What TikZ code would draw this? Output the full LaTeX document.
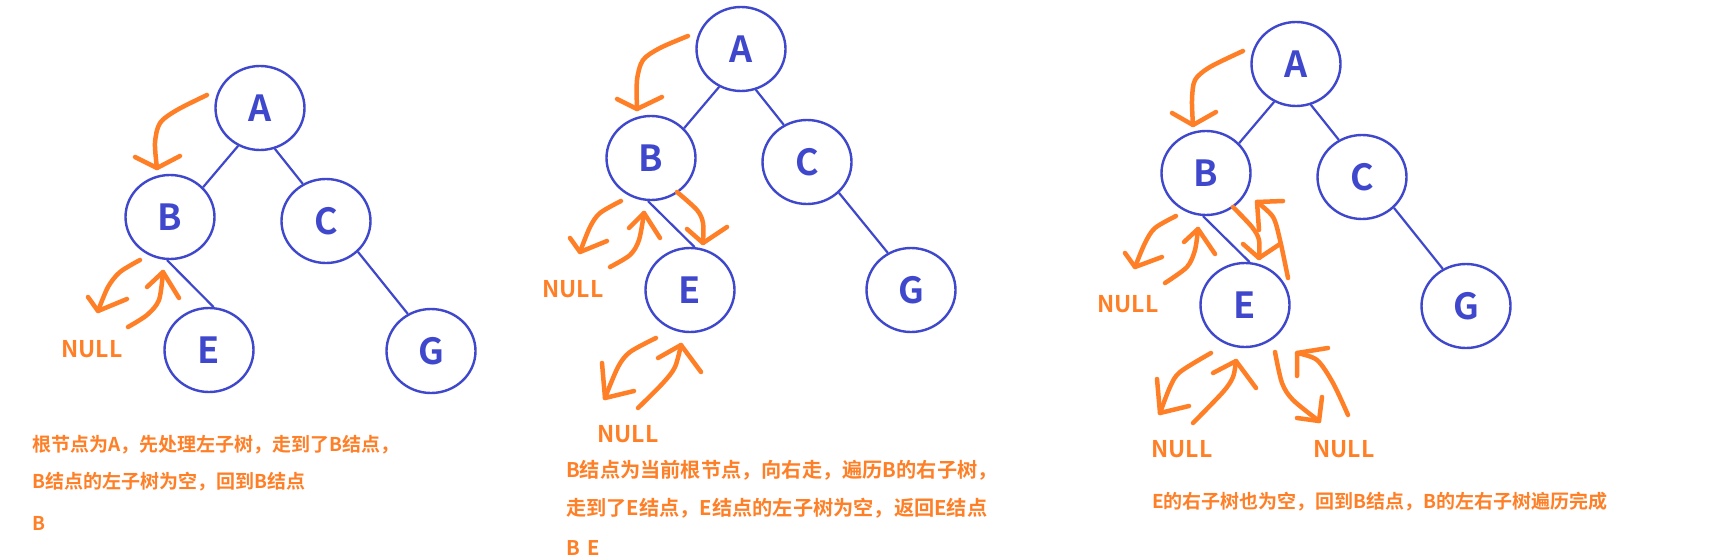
\documentclass[tikz,border=0pt]{standalone}
\usepackage{fontspec}
\newfontfamily\cjk{Noto Sans CJK SC}[BoldFont={Noto Sans CJK SC Bold}]
\usetikzlibrary{shapes.geometric}
\definecolor{pblue}{RGB}{63,72,204}
\definecolor{porange}{RGB}{255,127,39}
\begin{document}
\begin{tikzpicture}[x=1pt,y=-1pt,
  tn/.style={ellipse, draw=pblue, line width=2.4pt, minimum width=89pt, minimum height=84pt, inner sep=0pt, text=pblue, font=\cjk\bfseries\fontsize{36}{36}\selectfont},
  tedge/.style={draw=pblue, line width=2.2pt},
  stroke/.style={draw=porange, line width=4.5pt, line cap=round, line join=round},
  nulllbl/.style={text=porange, font=\cjk\bfseries\fontsize{23}{23}\selectfont, inner sep=0pt},
  txt/.style={text=porange, font=\cjk\bfseries\fontsize{19}{19}\selectfont, inner sep=0pt, anchor=west},
  txtb/.style={txt, font=\cjk\bfseries\fontsize{20.2}{20.2}\selectfont}]
\useasboundingbox[fill=white] (0,0) rectangle (1719,559);
% ---------- panel 1 ----------
\node[tn] (A1) at (260,108) {A};
\node[tn] (B1) at (170,217) {B};
\node[tn] (C1) at (326,221) {C};
\node[tn] (E1) at (209,350) {E};
\node[tn] (G1) at (431,351) {G};
\draw[tedge] (A1.240) -- (B1.42);
\draw[tedge] (A1.290) -- (C1.122);
\draw[tedge] (B1.266) -- (E1.84);
\draw[tedge] (C1.316) -- (G1.122);
\draw[stroke] plot[smooth] coordinates {(207,95) (177,110) (160,123) (155,143) (157,168)};
\draw[stroke] (135,157) -- (157,168) -- (180,156);
\draw[stroke] plot[smooth] coordinates {(140,260) (120,272) (108,287) (98,311)};
\draw[stroke] (88,297) -- (98,311) -- (127,299);
\draw[stroke] plot[smooth] coordinates {(128,327) (147,315) (159,300) (163,272)};
\draw[stroke] (147,287) -- (163,272) -- (179,298);
\node[nulllbl] (N1) at (92,349) {NULL};
\node[txt] (t1a) at (32,445) {根节点为A，先处理左子树，走到了B结点，};
\node[txt] (t1b) at (32,482) {B结点的左子树为空，回到B结点};
\node[txt] (t1c) at (32,523) {B};
% ---------- panel 2 ----------
\node[tn] (A2) at (741,49) {A};
\node[tn] (B2) at (651,158) {B};
\node[tn] (C2) at (807,162) {C};
\node[tn] (E2) at (690,290) {E};
\node[tn] (G2) at (911,290) {G};
\draw[tedge] (A2.240) -- (B2.42);
\draw[tedge] (A2.290) -- (C2.122);
\draw[tedge] (B2.266) -- (E2.84);
\draw[tedge] (C2.316) -- (G2.122);
\draw[stroke] plot[smooth] coordinates {(688,36) (660,48) (643,60) (637,80) (637,109)};
\draw[stroke] (617,99) -- (637,109) -- (662,97);
\draw[stroke] plot[smooth] coordinates {(621,201) (600,213) (590,227) (580,252)};
\draw[stroke] (570,238) -- (580,252) -- (607,241);
\draw[stroke] plot[smooth] coordinates {(610,267) (630,255) (639,240) (644,213)};
\draw[stroke] (629,228) -- (644,213) -- (660,238);
\draw[stroke] plot[smooth] coordinates {(677,192) (697,210) (703,223) (703,243)};
\draw[stroke] (687,229) -- (703,243) -- (727,227);
\draw[stroke] plot[smooth] coordinates {(656,338) (630,352) (618,367) (605,398)};
\draw[stroke] (602,363) -- (605,398) -- (634,391);
\draw[stroke] plot[smooth] coordinates {(638,408) (663,383) (675,367) (681,345)};
\draw[stroke] (658,358) -- (681,345) -- (701,372);
\node[nulllbl] (N2a) at (573,289) {NULL};
\node[nulllbl] (N2b) at (628,434) {NULL};
\node[txtb] (t2a) at (566,470) {B结点为当前根节点，向右走，遍历B的右子树，};
\node[txtb] (t2b) at (566,508) {走到了E结点，E结点的左子树为空，返回E结点};
\node[txtb] (t2c) at (566,548) {B\hspace{0.35em}E};
% ---------- panel 3 ----------
\node[tn] (A3) at (1296,64) {A};
\node[tn] (B3) at (1206,173) {B};
\node[tn] (C3) at (1362,177) {C};
\node[tn] (E3) at (1245,305) {E};
\node[tn] (G3) at (1466,306) {G};
\draw[tedge] (A3.240) -- (B3.42);
\draw[tedge] (A3.290) -- (C3.122);
\draw[tedge] (B3.266) -- (E3.84);
\draw[tedge] (C3.316) -- (G3.122);
\draw[stroke] plot[smooth] coordinates {(1243,51) (1210,67) (1195,80) (1192,100) (1193,125)};
\draw[stroke] (1172,113) -- (1193,125) -- (1216,112);
\draw[stroke] plot[smooth] coordinates {(1176,216) (1155,228) (1145,243) (1135,267)};
\draw[stroke] (1125,253) -- (1135,267) -- (1162,257);
\draw[stroke] plot[smooth] coordinates {(1165,283) (1187,267) (1195,250) (1198,229)};
\draw[stroke] (1184,242) -- (1198,229) -- (1215,254);
\draw[stroke] plot[smooth] coordinates {(1233,207) (1252,227) (1259,240) (1259,258)};
\draw[stroke] (1243,244) -- (1259,258) -- (1280,244);
\draw[stroke] plot[smooth] coordinates {(1288,278) (1280,240) (1273,217) (1257,202)};
\draw[stroke] (1259,230) -- (1257,202) -- (1283,201);
\draw[stroke] plot[smooth] coordinates {(1211,353) (1180,372) (1170,387) (1160,413)};
\draw[stroke] (1157,379) -- (1160,413) -- (1189,406);
\draw[stroke] plot[smooth] coordinates {(1193,423) (1223,392) (1233,377) (1236,361)};
\draw[stroke] (1213,373) -- (1236,361) -- (1256,388);
\draw[stroke] plot[smooth] coordinates {(1275,352) (1282,383) (1293,400) (1319,421)};
\draw[stroke] (1297,418) -- (1319,421) -- (1322,397);
\draw[stroke] plot[smooth] coordinates {(1348,415) (1333,383) (1317,360) (1297,353)};
\draw[stroke] (1297,376) -- (1297,353) -- (1328,348);
\node[nulllbl] (N3a) at (1128,304) {NULL};
\node[nulllbl] (N3b) at (1182,449) {NULL};
\node[nulllbl] (N3c) at (1344,449) {NULL};
\node[txt] (t3a) at (1152,502) {E的右子树也为空，回到B结点，B的左右子树遍历完成};
\end{tikzpicture}
\end{document}
